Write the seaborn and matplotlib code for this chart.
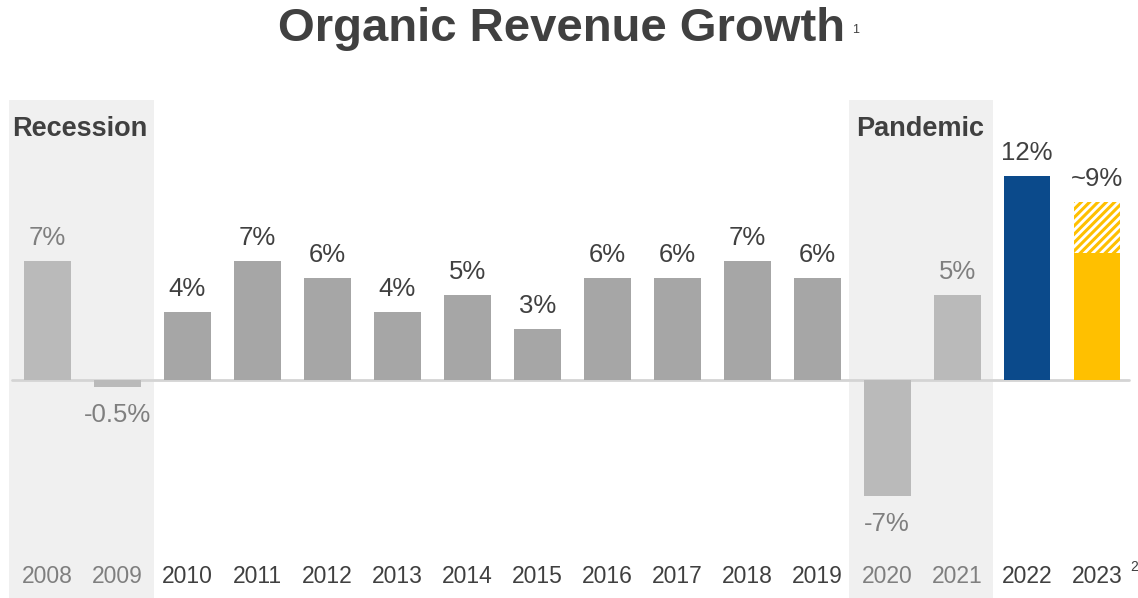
import matplotlib
matplotlib.use("Agg")
import matplotlib.pyplot as plt
import seaborn as sns
import pandas as pd

# data
years = ['2008', '2009', '2010', '2011', '2012', '2013', '2014', '2015',
         '2016', '2017', '2018', '2019', '2020', '2021', '2022', '2023']
growth = [7, -0.4, 4, 7, 6, 4, 5, 3, 6, 6, 7, 6, -6.8, 5, 12, 7.5]
value_labels = ['7%', '-0.5%', '4%', '7%', '6%', '4%', '5%', '3%',
                '6%', '6%', '7%', '6%', '-7%', '5%', '12%', '~9%']
# 2023 guidance range (hatched part on top of the solid bar)
guide_year = '2023'
guide_top = 10.5
# shaded periods
periods = [('Recession', '2008', '2009'), ('Pandemic', '2020', '2021')]
muted_years = ['2008', '2009', '2020', '2021']

light_gray = '#bababa'
dark_gray = '#a6a6a6'
blue = '#0b4a8b'
yellow = '#ffc000'
txt_dark = '#404040'
txt_gray = '#7f7f7f'

colors = []
for y in years:
    if y == '2022':
        colors.append(blue)
    elif y == '2023':
        colors.append(yellow)
    elif y in muted_years:
        colors.append(light_gray)
    else:
        colors.append(dark_gray)

sns.set_theme(style='white')
plt.rcParams['font.family'] = ['Liberation Sans', 'DejaVu Sans']
plt.rcParams['hatch.linewidth'] = 2.2

df = pd.DataFrame({'year': years, 'growth': growth})

fig = plt.figure(figsize=(11.38, 5.98), dpi=100)
ax = fig.add_axes([9 / 1138, 0, 1123 / 1138, 498 / 598])

sns.barplot(data=df, x='year', y='growth', hue='year', palette=colors,
            legend=False, width=0.67, saturation=1, linewidth=0, ax=ax, zorder=3)

# hatched range for 2023
gi = years.index(guide_year)
gv = growth[gi]
ax.bar(gi, guide_top - gv, bottom=gv, width=0.67, color='white',
       edgecolor=yellow, hatch='////', linewidth=0, zorder=3)

# shaded periods
for name, a, b in periods:
    ia = years.index(a)
    ib = years.index(b)
    ax.axvspan(ia - 0.55, ib + 0.52, color='#f0f0f0', zorder=0, lw=0)
    pad = 0.0 if name == 'Recession' else 0.07
    ax.text(ia - 0.51 + pad, 14.8, name, fontsize=19.5, fontweight='bold',
            color=txt_dark, ha='left', va='center', zorder=4)

ax.axhline(0, color='#d4d4d4', lw=2, zorder=2, xmin=0.003, xmax=0.997)

# value labels
for i, (v, lab) in enumerate(zip(growth, value_labels)):
    c = txt_gray if years[i] in muted_years else txt_dark
    top = v
    if years[i] == guide_year:
        top = guide_top
    if v >= 0:
        ax.annotate(lab, (i, top), xytext=(0, 23), textcoords='offset pixels',
                    ha='center', va='center', fontsize=18.5, color=c, zorder=5)
    else:
        ax.annotate(lab, (i, top), xytext=(0, -28), textcoords='offset pixels',
                    ha='center', va='center', fontsize=18.5, color=c, zorder=5)

# year labels inside the axes
for i, y in enumerate(years):
    c = txt_gray if y in muted_years else txt_dark
    ax.text(i, -11.55, y, fontsize=16.5, color=c, ha='center', va='center')
ax.text(gi + 0.47, -11.0, '2', fontsize=10, color=txt_dark, ha='left', va='center')

ax.set_xlim(-0.55, 15.5)
ax.set_ylim(-12.8, 16.5)
ax.set_xticks([])
ax.set_yticks([])
ax.set_xlabel('')
ax.set_ylabel('')
sns.despine(ax=ax, left=True, bottom=True)

# title
fig.text(562 / 1138, 1 - 29 / 598, 'Organic Revenue Growth', ha='center', va='center',
         fontsize=34, fontweight='bold', color=txt_dark)
fig.text(852 / 1138, 1 - 30 / 598, '1', ha='left', va='center', fontsize=9,
         color=txt_dark)

fig.savefig('out.png', dpi=100, facecolor='white')
